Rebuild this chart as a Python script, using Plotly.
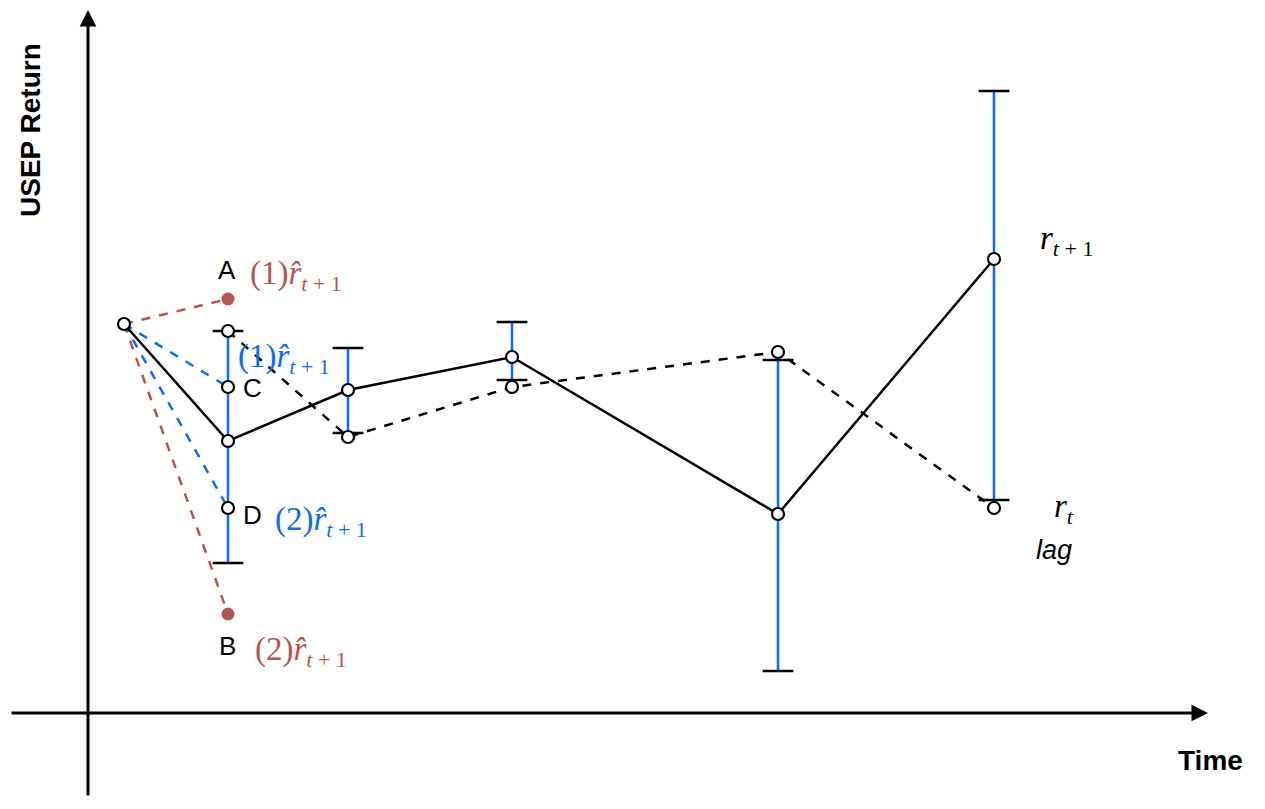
import plotly.graph_objects as go

# time positions of the observations (arbitrary units)
t_obs = [0.36, 1.40, 2.60, 4.24, 6.90, 9.06]
r_next = [3.89, 2.72, 3.23, 3.56, 1.99, 4.54]      # r_{t+1}, solid
t_lag = [1.40, 2.60, 4.24, 6.90, 9.06]
r_lag = [3.82, 2.76, 3.26, 3.61, 2.05]             # r_t lag, dashed

# prediction intervals at each step
t_bar = [1.40, 2.60, 4.24, 6.90, 9.06]
bar_hi = [3.82, 3.65, 3.91, 3.53, 6.22]
bar_lo = [1.50, 2.80, 3.33, 0.42, 2.13]

# forecasts from the first point
t0, r0 = 0.36, 3.89
t1 = 1.40
red_pts = {"A": 4.14, "B": 0.99}
blue_pts = {"C": 3.26, "D": 2.05}

BLUE = "#0b6bff"
RED = "#b85450"
BLACK = "#000000"

fig = go.Figure()

# blue interval lines
mid = [(h + l) / 2 for h, l in zip(bar_hi, bar_lo)]
half = [(h - l) / 2 for h, l in zip(bar_hi, bar_lo)]
fig.add_trace(go.Scatter(
    x=t_bar, y=mid, mode="markers", marker=dict(size=0.1, color="rgba(0,0,0,0)"),
    error_y=dict(type="data", array=half, color=BLUE, thickness=2.5, width=0),
))

# dashed forecast rays
for y in red_pts.values():
    fig.add_trace(go.Scatter(x=[t0, t1], y=[r0, y], mode="lines",
                             line=dict(color=RED, width=2.5, dash="dash")))
for y in blue_pts.values():
    fig.add_trace(go.Scatter(x=[t0, t1], y=[r0, y], mode="lines",
                             line=dict(color=BLUE, width=2.5, dash="dash")))

# caps
fig.add_trace(go.Scatter(
    x=t_bar + t_bar, y=bar_hi + bar_lo, mode="markers",
    marker=dict(symbol="line-ew", size=22, line=dict(color=BLACK, width=2.5)),
))

# series
fig.add_trace(go.Scatter(x=t_lag, y=r_lag, mode="lines",
                         line=dict(color=BLACK, width=2.5, dash="dash")))
fig.add_trace(go.Scatter(x=t_obs, y=r_next, mode="lines",
                         line=dict(color=BLACK, width=2.5)))

circle = dict(symbol="circle", size=12, color="white", line=dict(color=BLACK, width=2.2))
fig.add_trace(go.Scatter(x=t_lag, y=r_lag, mode="markers", marker=circle))
fig.add_trace(go.Scatter(x=t_obs, y=r_next, mode="markers", marker=circle))
fig.add_trace(go.Scatter(x=[t1, t1], y=list(blue_pts.values()), mode="markers", marker=circle))
fig.add_trace(go.Scatter(x=[t1, t1], y=list(red_pts.values()), mode="markers",
                         marker=dict(symbol="circle", size=13, color=RED)))

# axes as arrows
fig.add_annotation(x=11.20, y=0, ax=-0.78, ay=0, xref="x", yref="y", axref="x", ayref="y",
                   text="", showarrow=True, arrowhead=2, arrowsize=1.1, arrowwidth=3,
                   arrowcolor=BLACK)
fig.add_annotation(x=0, y=7.03, ax=0, ay=-0.84, xref="x", yref="y", axref="x", ayref="y",
                   text="", showarrow=True, arrowhead=2, arrowsize=1.1, arrowwidth=3,
                   arrowcolor=BLACK)

SANS = "Liberation Sans, Arial"
SERIF = "Liberation Serif, Times New Roman"
sans = dict(family=SANS, size=26, color=BLACK)

fig.add_annotation(x=-0.58, y=5.83, text="<b>USEP Return</b>", textangle=-90, showarrow=False,
                   font=dict(family=SANS, size=28, color=BLACK))
fig.add_annotation(x=11.22, y=-0.47, text="<b>Time</b>", showarrow=False,
                   font=dict(family=SANS, size=28, color=BLACK))

SUB = "<sub><span style='font-size:22px'>{}</span></sub>"


def hat(n):
    return f"({n})<i>r̂</i>" + SUB.format("<i>t</i> + 1")


labels = [
    (1.39, 4.43, "A", "center"),
    (1.39, 0.67, "B", "center"),
    (1.53, 3.25, "C", "left"),
    (1.53, 1.98, "D", "left"),
]
for x, y, s, a in labels:
    fig.add_annotation(x=x, y=y, text=s, showarrow=False, font=sans, xanchor=a)

math = [
    (1.60, 4.38, hat(1), RED),
    (1.48, 3.55, hat(1), BLUE),
    (1.85, 1.92, hat(2), BLUE),
    (1.65, 0.62, hat(2), RED),
    (9.50, 4.73, "<i>r</i>" + SUB.format("<i>t</i> + 1"), BLACK),
    (9.64, 2.05, "<i>r</i>" + SUB.format("<i>t</i>"), BLACK),
]
for x, y, s, c in math:
    fig.add_annotation(x=x, y=y, text=s, showarrow=False, xanchor="left",
                       font=dict(family=SERIF, size=33, color=c))
fig.add_annotation(x=9.46, y=1.63, text="<i>lag</i>", showarrow=False, xanchor="left",
                   font=dict(family=SANS, size=27, color=BLACK))

fig.update_xaxes(range=[-0.88, 11.77], visible=False)
fig.update_yaxes(range=[-0.96, 7.13], visible=False)
fig.update_layout(
    width=1265, height=809, margin=dict(l=0, r=0, t=0, b=0),
    plot_bgcolor="white", paper_bgcolor="white", showlegend=False,
)

fig.write_html("out.html", config={"displayModeBar": False},
               post_script="document.body.style.margin='0px';")
